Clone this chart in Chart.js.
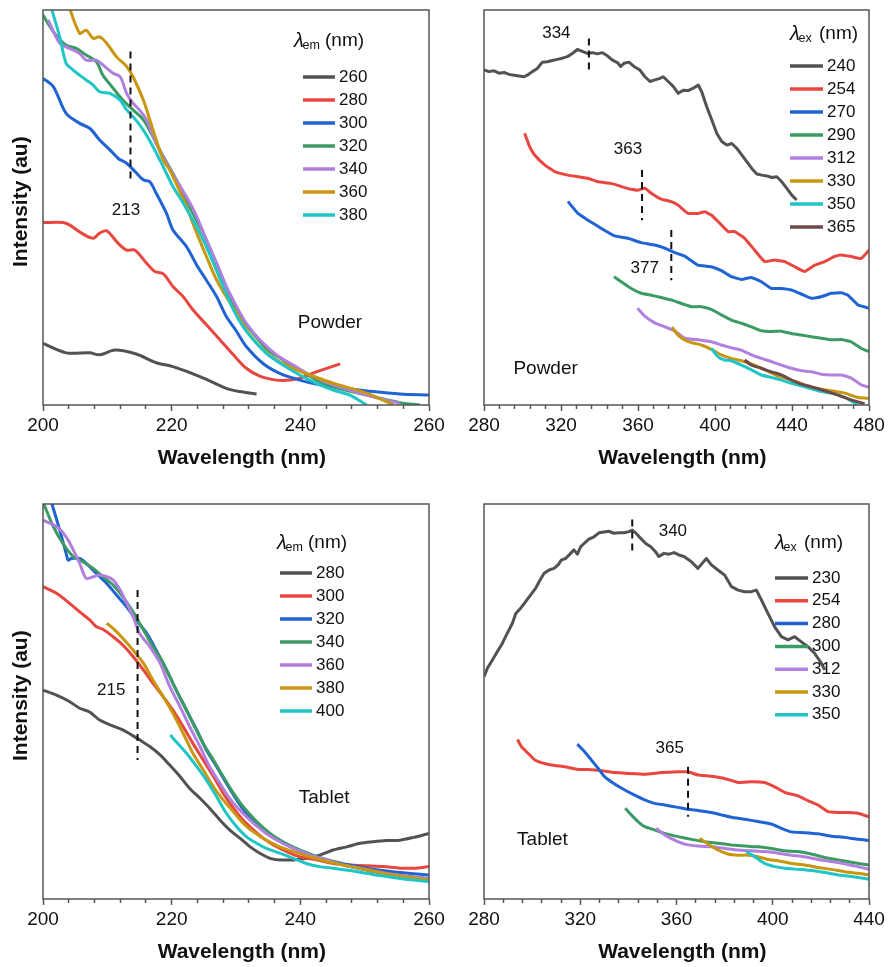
<!DOCTYPE html>
<html><head><meta charset="utf-8">
<script src="https://cdn.jsdelivr.net/npm/chart.js@4.4.1/dist/chart.umd.min.js"></script>
<style>
html,body{margin:0;padding:0;background:#fff;}
body{width:889px;height:967px;position:relative;overflow:hidden;}
canvas{position:absolute;}
</style></head><body>
<canvas id="c1" width="445" height="480" style="left:0;top:0"></canvas>
<canvas id="c2" width="444" height="480" style="left:445px;top:0"></canvas>
<canvas id="c3" width="445" height="487" style="left:0;top:480px"></canvas>
<canvas id="c4" width="444" height="487" style="left:445px;top:480px"></canvas>
<script>
// ---------------- DATA ----------------
// Panel 1: Powder, excitation spectra, lambda_em (nm)
const p1Labels = ['260', '280', '300', '320', '340', '360', '380'];
const p1X260 = [200, 203.6, 207.3, 208.8, 211.2, 214.5, 217.6, 220.2, 224.4, 228.5, 230.6, 233.2];
const p1Y260 = [15.6, 13.2, 13.2, 12.7, 13.9, 12.9, 10.7, 9.7, 7.2, 4.2, 3.4, 2.8];
const p1X280 = [200, 203.1, 204.1, 206.0, 207.8, 208.8, 209.9, 211.7, 213.0, 214.3, 216.1, 217.4, 218.7, 220.2, 221.8, 223.3, 225.4, 227.5, 229.6, 231.6, 233.7, 236.3, 238.4, 239.9, 242.5, 246.2];
const p1Y280 = [46.2, 46.2, 45.6, 43.5, 42.2, 43.5, 44.1, 40.9, 39.2, 39.2, 35.9, 33.8, 33.2, 30.0, 27.4, 24.1, 20.3, 16.5, 12.7, 9.3, 7.3, 6.3, 6.3, 6.8, 8.4, 10.4];
const p1X300 = [200, 201.6, 203.6, 205.7, 207.3, 208.8, 210.4, 211.7, 213.0, 214.3, 215.6, 216.6, 217.6, 219.2, 220.2, 222.3, 223.9, 225.4, 227.0, 228.5, 230.1, 231.6, 234.2, 236.8, 239.9, 243.0, 247.2, 251.3, 255.5, 260];
const p1Y300 = [82.7, 80.6, 73.8, 71.3, 70.0, 67.1, 64.6, 62.4, 61.2, 59.1, 57.0, 56.5, 53.6, 48.5, 44.3, 40.1, 35.4, 31.6, 27.4, 22.4, 18.6, 14.8, 10.5, 8.0, 6.3, 5.1, 4.2, 3.4, 2.8, 2.5];
const p1X320 = [200, 201.8, 203.6, 205.2, 206.7, 208.3, 209.3, 210.9, 212.4, 214.0, 215.6, 217.1, 218.7, 220.2, 221.8, 223.3, 224.9, 226.5, 228.0, 229.6, 231.1, 232.7, 234.7, 237.3, 239.9, 242.5, 245.1, 250.3, 255.5, 258.6];
const p1Y320 = [98.7, 94.1, 91.1, 90.3, 88.6, 86.9, 83.5, 80.2, 77.2, 74.7, 72.2, 67.9, 62.9, 58.6, 53.6, 48.5, 43.5, 37.6, 31.6, 25.7, 21.5, 18.1, 14.3, 11.4, 8.9, 6.3, 4.6, 2.5, 0.6, 0];
const p1X340 = [200.8, 202.6, 204.1, 205.7, 206.7, 208.3, 209.3, 210.9, 212.0, 213.0, 214.0, 215.0, 216.1, 217.6, 219.2, 220.7, 222.3, 223.9, 225.4, 227.0, 228.5, 230.1, 231.6, 233.7, 236.3, 238.9, 241.5, 245.1, 250.3, 255.5];
const p1Y340 = [97.5, 91.6, 90.3, 89.0, 87.3, 87.3, 86.1, 84.0, 83.1, 78.9, 76.4, 74.7, 72.2, 66.2, 61.2, 57.0, 52.7, 47.7, 41.8, 35.9, 30.0, 24.9, 20.7, 16.5, 12.7, 10.1, 7.6, 5.1, 2.5, 0.4];
const p1X360 = [203.9, 205.7, 206.7, 207.8, 208.8, 209.9, 211.4, 213.0, 214.0, 215.6, 216.6, 217.6, 218.7, 219.7, 220.7, 222.3, 223.9, 225.4, 227.0, 228.5, 230.1, 231.6, 233.7, 236.3, 238.9, 241.5, 245.1, 250.3, 254.5];
const p1Y360 = [101.5, 94.1, 94.9, 92.8, 93.2, 91.6, 88.2, 85.7, 83.1, 77.2, 72.2, 67.1, 62.0, 59.5, 56.1, 50.2, 43.5, 37.6, 31.6, 27.4, 23.2, 19.0, 14.8, 11.4, 9.3, 7.6, 5.5, 3.0, 0];
const p1X380 = [201.3, 202.6, 203.6, 204.7, 205.7, 206.7, 207.8, 208.8, 210.4, 212.0, 213.0, 214.0, 215.6, 217.1, 218.7, 220.2, 221.8, 223.3, 224.9, 226.5, 228.0, 229.6, 231.1, 232.7, 234.7, 237.3, 239.9, 242.5, 245.1, 247.7, 250.3];
const p1Y380 = [100.5, 93.2, 86.5, 84.8, 83.5, 82.3, 81.0, 79.3, 78.9, 77.2, 74.7, 73.0, 69.6, 65.4, 60.3, 55.3, 51.1, 46.8, 41.8, 35.9, 30.0, 24.1, 19.8, 16.5, 13.1, 10.1, 7.6, 5.5, 3.8, 2.5, 0];
const p1TickLabels = [200, 220, 240, 260];
const p1PeakLabels = ['213'];
const p1PeakX = [213.6];
const p1PeakYTop = [89.5];
const p1PeakYBottom = [56.1];

// Panel 2: Powder, emission spectra, lambda_ex (nm)
const p2Labels = ['240', '254', '270', '290', '312', '330', '350', '365'];
const p2X240 = [280, 282.6, 285.2, 287.8, 290.4, 293.0, 295.6, 298.2, 300.8, 302.5, 305.1, 307.7, 310.3, 312.9, 315.5, 318.1, 320.7, 323.3, 325.9, 328.5, 331.1, 333.7, 336.3, 338.9, 341.5, 344.1, 346.7, 349.3, 351.0, 352.7, 355.3, 357.9, 361.0, 363.6, 366.2, 368.8, 371.4, 373.1, 375.7, 378.4, 380.9, 383.5, 386.1, 388.7, 391.3, 393.1, 395.7, 398.3, 400.9, 403.5, 406.1, 408.7, 411.3, 413.9, 416.5, 419.1, 421.7, 424.3, 426.9, 429.5, 432.1, 434.7, 437.2, 439.8, 442.4];
const p2Y240 = [84.8, 84.4, 84.6, 84.0, 84.2, 83.7, 83.5, 83.3, 83.1, 83.5, 84.4, 85.2, 86.8, 86.9, 87.2, 87.5, 87.8, 88.2, 89.0, 90.0, 89.5, 89.0, 89.2, 88.9, 89.2, 88.4, 87.3, 86.7, 85.7, 86.5, 86.8, 85.7, 84.8, 83.1, 81.9, 82.3, 82.7, 83.1, 81.9, 80.6, 78.9, 79.7, 79.6, 80.2, 81.0, 79.3, 75.5, 72.2, 68.8, 66.7, 65.8, 66.2, 65.0, 63.3, 61.6, 59.9, 58.5, 58.2, 58.0, 57.6, 57.8, 56.5, 54.9, 53.2, 51.9];
const p2X254 = [301.1, 303.7, 306.3, 311.5, 316.7, 323.6, 328.8, 334.0, 339.2, 346.1, 351.3, 356.5, 360.0, 363.5, 366.9, 372.1, 377.3, 380.8, 386.0, 391.2, 394.6, 398.1, 403.3, 406.8, 410.2, 415.4, 420.6, 425.8, 431.0, 436.2, 441.4, 446.6, 451.8, 457.0, 462.2, 465.6, 470.8, 476.0, 480];
const p2Y254 = [68.8, 65.4, 63.3, 60.8, 59.1, 58.2, 57.8, 57.4, 56.5, 56.1, 55.3, 54.6, 54.4, 54.9, 53.6, 52.1, 51.5, 50.6, 48.5, 48.5, 48.9, 48.1, 45.6, 43.9, 43.9, 42.2, 39.2, 36.3, 36.7, 36.3, 35.0, 33.8, 35.4, 36.3, 37.6, 38.0, 37.6, 37.1, 39.2];
const p2X270 = [323.6, 328.8, 334.0, 341.0, 347.9, 354.8, 361.7, 368.7, 373.9, 379.0, 384.2, 391.2, 398.1, 403.3, 408.5, 413.7, 418.9, 424.1, 429.3, 434.5, 439.7, 444.8, 450.0, 455.2, 460.4, 465.6, 469.1, 474.3, 480];
const p2Y270 = [51.5, 48.5, 46.8, 44.7, 42.8, 42.2, 41.1, 40.5, 39.7, 38.6, 37.7, 35.4, 35.0, 34.0, 32.5, 31.8, 32.3, 31.2, 29.5, 29.5, 29.1, 28.1, 27.0, 27.4, 28.3, 28.4, 27.8, 25.3, 24.5];
const p2X290 = [347.5, 351.3, 356.5, 361.7, 366.9, 372.1, 377.3, 382.5, 387.7, 392.9, 398.1, 403.3, 408.5, 413.7, 418.9, 424.1, 429.3, 434.5, 439.7, 444.8, 450.0, 455.2, 460.4, 465.6, 470.8, 476.0, 480];
const p2Y290 = [32.5, 31.2, 29.5, 28.3, 27.8, 27.2, 26.6, 25.7, 24.9, 24.9, 24.2, 22.8, 21.5, 20.7, 19.8, 18.8, 18.6, 18.7, 18.1, 17.7, 17.3, 16.9, 16.5, 16.6, 16.0, 14.3, 13.5];
const p2X312 = [359.7, 363.5, 368.7, 373.9, 379.0, 384.2, 391.2, 398.1, 403.3, 408.5, 413.7, 418.9, 424.1, 429.3, 434.5, 439.7, 444.8, 450.0, 455.2, 460.4, 465.6, 470.8, 476.0, 480];
const p2Y312 = [24.5, 22.5, 20.8, 19.8, 18.8, 16.9, 16.5, 16.0, 15.2, 14.5, 13.9, 12.7, 11.8, 11.0, 10.1, 9.3, 8.7, 8.4, 7.8, 7.6, 7.6, 6.8, 5.1, 4.5];
const p2X330 = [377.7, 380.8, 384.2, 387.7, 392.9, 398.1, 403.3, 408.5, 413.7, 418.9, 425.8, 432.7, 439.7, 446.6, 453.5, 460.4, 467.4, 474.3, 480];
const p2Y330 = [19.7, 17.7, 16.5, 15.8, 15.2, 14.1, 12.7, 11.8, 11.2, 10.4, 8.9, 7.3, 6.3, 5.1, 4.2, 3.6, 3.0, 1.9, 1.7];
const p2X350 = [398.1, 401.6, 405.0, 408.5, 413.7, 418.9, 424.1, 429.3, 434.5, 439.7, 446.6, 453.5, 460.4, 467.4, 474.3];
const p2Y350 = [14.3, 12.2, 11.4, 11.2, 10.1, 8.9, 7.6, 7.0, 6.3, 5.5, 4.6, 3.6, 3.0, 1.9, 0];
const p2X365 = [415.4, 418.9, 424.1, 429.3, 434.5, 439.7, 444.8, 450.0, 457.0, 463.9, 470.8, 477.7];
const p2Y365 = [11.4, 10.1, 9.3, 8.4, 7.6, 6.3, 5.3, 4.6, 3.6, 2.5, 1.3, 0.3];
const p2TickLabels = [280, 320, 360, 400, 440, 480];
const p2PeakLabels = ['334', '363', '377'];
const p2PeakX = [334.5, 362.1, 377.3];
const p2PeakYTop = [92.8, 59.5, 44.3];
const p2PeakYBottom = [84.0, 46.8, 31.6];

// Panel 3: Tablet, excitation spectra, lambda_em (nm)
const p3Labels = ['280', '300', '320', '340', '360', '380', '400'];
const p3X280 = [200, 202.1, 204.1, 205.7, 207.3, 208.8, 210.4, 212.4, 214.0, 215.0, 216.6, 218.2, 219.7, 221.3, 222.8, 224.4, 225.9, 227.5, 229.0, 230.6, 232.2, 233.7, 235.3, 236.8, 238.9, 241.0, 243.0, 245.1, 247.2, 249.3, 251.3, 253.4, 255.5, 257.6, 260];
const p3Y280 = [52.9, 51.6, 50.0, 48.3, 47.3, 45.3, 44.1, 42.8, 41.3, 40.3, 38.6, 36.5, 33.9, 31.0, 28.0, 25.5, 23.0, 20.0, 17.5, 15.4, 13.2, 11.6, 10.3, 9.9, 9.9, 10.3, 11.1, 12.4, 13.2, 14.1, 14.5, 14.8, 14.9, 15.6, 16.6];
const p3X300 = [200, 202.1, 204.1, 205.7, 207.3, 208.3, 209.3, 210.9, 212.4, 214.0, 215.6, 217.1, 218.7, 220.2, 221.8, 223.3, 224.9, 226.5, 228.0, 229.6, 231.1, 232.7, 234.2, 235.8, 237.9, 239.9, 242.5, 245.1, 247.7, 250.3, 252.9, 255.5, 257.6, 260];
const p3Y300 = [79.1, 77.4, 74.9, 72.7, 70.6, 68.9, 68.3, 66.4, 64.3, 61.4, 58.0, 54.6, 51.2, 47.8, 43.6, 39.4, 35.2, 31.0, 26.8, 23.0, 20.0, 17.5, 15.4, 13.7, 12.0, 10.7, 9.9, 9.0, 8.6, 8.4, 8.2, 7.8, 7.8, 8.2];
const p3X320 = [201.3, 202.6, 203.6, 203.9, 204.4, 205.7, 206.7, 208.3, 209.9, 211.4, 213.0, 214.5, 216.1, 217.6, 219.2, 220.7, 222.3, 223.9, 225.4, 227.0, 228.5, 230.1, 231.6, 233.7, 235.8, 237.9, 239.9, 242.5, 245.1, 247.7, 250.3, 252.9, 255.5, 260];
const p3Y320 = [100.5, 93.4, 87.5, 85.8, 86.2, 86.2, 85.0, 82.4, 79.9, 77.0, 74.0, 70.6, 67.3, 63.0, 58.0, 52.9, 47.8, 42.8, 37.7, 33.5, 29.3, 25.1, 21.7, 18.3, 15.8, 13.7, 12.4, 10.7, 9.5, 8.6, 7.8, 7.2, 6.7, 6.1];
const p3X340 = [200, 201.6, 203.1, 204.7, 206.2, 207.8, 209.3, 210.9, 212.4, 214.0, 215.6, 217.1, 218.7, 220.2, 221.8, 223.3, 224.9, 226.5, 228.0, 229.6, 231.1, 233.2, 235.3, 237.3, 239.9, 242.5, 245.1, 247.7, 250.3, 252.9, 255.5, 260];
const p3Y340 = [100.5, 94.3, 90.0, 86.7, 85.4, 83.7, 81.6, 79.5, 76.5, 72.7, 68.1, 63.9, 59.7, 54.6, 49.5, 44.5, 39.4, 35.2, 31.0, 26.8, 23.4, 19.6, 16.6, 14.5, 12.4, 10.7, 9.5, 8.2, 7.3, 6.5, 5.8, 5.2];
const p3X360 = [200, 202.1, 203.6, 204.7, 205.7, 206.7, 207.8, 208.8, 209.9, 210.9, 212.0, 213.0, 214.0, 215.0, 216.6, 218.2, 219.7, 221.3, 222.8, 224.4, 225.9, 227.5, 229.0, 230.6, 232.7, 234.7, 236.8, 238.9, 241.5, 244.1, 246.7, 249.3, 251.9, 254.5, 257.1, 260];
const p3Y360 = [95.9, 94.3, 91.7, 88.4, 85.0, 81.2, 81.6, 82.0, 81.6, 80.8, 78.2, 74.9, 71.5, 67.3, 63.9, 59.7, 53.8, 48.7, 43.6, 38.6, 33.5, 29.3, 25.5, 22.5, 19.2, 16.6, 14.5, 12.8, 11.1, 9.9, 8.6, 7.8, 6.9, 6.2, 5.7, 5.2];
const p3X380 = [209.9, 210.9, 212.4, 214.0, 215.6, 217.1, 218.7, 220.2, 221.8, 223.3, 224.9, 226.5, 228.0, 229.6, 231.1, 232.7, 234.7, 236.8, 238.9, 241.5, 244.1, 246.7, 249.3, 251.9, 254.5, 257.1, 260];
const p3Y380 = [69.8, 68.5, 66.0, 63.0, 59.7, 55.4, 51.2, 47.0, 41.9, 36.9, 32.7, 28.4, 25.1, 22.1, 19.2, 17.0, 14.9, 13.2, 12.0, 10.7, 9.5, 8.6, 7.8, 6.9, 6.1, 5.5, 4.8];
const p3X400 = [219.8, 220.7, 222.3, 223.9, 225.4, 227.0, 228.5, 230.1, 231.6, 233.2, 234.7, 236.8, 238.9, 240.9, 243.0, 245.1, 247.7, 250.3, 252.9, 255.5, 260];
const p3Y400 = [41.5, 39.8, 36.9, 33.5, 30.1, 25.9, 21.7, 18.3, 15.8, 14.1, 12.8, 11.6, 10.3, 9.0, 8.2, 7.8, 7.2, 6.5, 5.8, 5.2, 4.4];
const p3TickLabels = [200, 220, 240, 260];
const p3PeakLabels = ['215'];
const p3PeakX = [214.7];
const p3PeakYTop = [78.2];
const p3PeakYBottom = [35.2];

// Panel 4: Tablet, emission spectra, lambda_ex (nm)
const p4Labels = ['230', '254', '280', '300', '312', '330', '350'];
const p4X230 = [280, 281.4, 283.5, 285.5, 287.6, 289.7, 291.8, 293.2, 295.2, 297.3, 299.4, 301.5, 302.9, 304.9, 307.0, 309.1, 310.8, 312.1, 313.9, 316.0, 317.4, 318.8, 320.2, 321.6, 323.6, 325.7, 327.8, 329.9, 331.9, 334.0, 336.1, 338.2, 340.3, 341.6, 343.0, 345.1, 347.2, 349.3, 351.3, 352.7, 354.8, 356.9, 359.0, 361.0, 363.1, 366.2, 368.9, 372.4, 374.5, 377.2, 380.0, 382.8, 385.6, 388.3, 391.1, 393.2, 395.3, 398.0, 400.8, 403.6, 406.3, 409.1, 411.9, 414.6, 417.4, 420.2, 421.6];
const p4Y230 = [56.3, 58.4, 60.5, 62.6, 64.7, 67.3, 69.8, 72.3, 73.6, 75.3, 77.0, 78.7, 80.3, 82.4, 83.3, 83.7, 84.6, 85.8, 86.2, 87.5, 88.4, 87.3, 89.2, 90.0, 91.1, 91.7, 92.7, 92.9, 93.1, 92.6, 92.7, 92.7, 93.0, 93.4, 92.7, 91.3, 90.0, 89.2, 87.9, 86.7, 87.5, 87.3, 87.7, 87.1, 86.7, 85.4, 83.7, 86.2, 84.6, 83.3, 82.0, 79.1, 78.2, 77.8, 77.8, 78.2, 75.7, 72.3, 68.9, 66.4, 65.6, 66.4, 65.1, 63.9, 62.2, 59.7, 58.0];
const p4X254 = [293.9, 295.5, 298.3, 301.1, 305.2, 309.4, 313.5, 319.1, 323.2, 328.8, 334.3, 339.8, 346.8, 353.7, 360.6, 364.8, 368.9, 374.5, 380.0, 385.6, 391.1, 396.6, 400.8, 404.9, 410.5, 414.6, 418.8, 423.0, 427.1, 431.3, 435.4, 440];
const p4Y254 = [40.4, 38.6, 36.9, 35.2, 34.3, 33.8, 33.5, 32.8, 32.8, 32.5, 32.0, 31.8, 31.6, 32.0, 32.2, 32.2, 31.4, 31.1, 30.5, 29.5, 29.7, 29.5, 28.4, 27.0, 26.1, 24.9, 23.8, 22.1, 21.9, 21.9, 21.7, 20.8];
const p4X280 = [318.8, 321.8, 324.6, 327.4, 330.1, 334.3, 338.5, 342.6, 346.8, 350.9, 355.1, 360.6, 364.8, 368.9, 374.5, 378.6, 382.8, 388.3, 393.9, 399.4, 403.6, 407.7, 413.3, 418.8, 424.3, 429.9, 435.4, 440];
const p4Y280 = [39.2, 37.3, 35.2, 33.1, 31.0, 29.1, 27.6, 26.3, 25.1, 24.2, 23.8, 23.2, 22.7, 22.4, 21.9, 21.3, 20.7, 20.2, 19.6, 19.0, 17.9, 17.0, 16.8, 16.5, 15.9, 15.6, 15.1, 14.8];
const p4X300 = [338.7, 341.2, 344.0, 346.8, 350.9, 355.1, 360.6, 366.2, 371.7, 377.2, 382.8, 388.3, 393.9, 399.4, 404.9, 410.5, 416.0, 421.6, 427.1, 432.7, 440];
const p4Y300 = [23.0, 21.3, 19.6, 18.3, 17.5, 16.6, 15.8, 15.1, 14.5, 14.1, 13.7, 13.4, 13.2, 12.8, 12.2, 12.0, 11.4, 10.5, 9.9, 9.3, 8.6];
const p4X312 = [351.6, 355.1, 359.2, 363.4, 368.9, 374.5, 380.0, 385.6, 391.1, 396.6, 402.2, 407.7, 413.3, 418.8, 424.3, 429.9, 435.4, 440];
const p4Y312 = [17.9, 16.2, 14.9, 13.9, 13.4, 13.2, 12.8, 12.4, 12.2, 12.0, 11.6, 11.1, 10.7, 10.0, 9.5, 8.9, 8.2, 7.5];
const p4X330 = [369.6, 373.1, 377.2, 381.4, 385.6, 389.7, 393.9, 398.0, 402.2, 407.7, 413.3, 418.8, 424.3, 429.9, 435.4, 440];
const p4Y330 = [15.4, 13.9, 12.4, 11.4, 11.1, 11.1, 10.7, 10.0, 9.7, 9.0, 8.6, 8.0, 7.5, 6.9, 6.5, 6.1];
const p4X350 = [389.0, 392.5, 396.6, 400.8, 404.9, 410.5, 416.0, 421.6, 427.1, 432.7, 440];
const p4Y350 = [12.0, 10.7, 9.0, 8.2, 7.8, 7.5, 7.2, 6.7, 6.1, 5.7, 5.0];
const p4TickLabels = [280, 320, 360, 400, 440];
const p4PeakLabels = ['340', '365'];
const p4PeakX = [341.6, 364.8];
const p4PeakYTop = [96.1, 33.5];
const p4PeakYBottom = [87.5, 20.8];

// ---------------- STYLE / LAYOUT ----------------
const FONT = '"Liberation Sans", Arial, Helvetica, sans-serif';
const PALETTE = ['#525252', '#e8463f', '#2063d3', '#3b9b63', '#b180de', '#c8970f', '#1fc5c7', '#6d4a4a'];
const AXIS_COLOR = '#555';
const X_TITLE = '  Wavelength (nm)';
const Y_TITLE = '  Intensity (au)';

function pts(xs, ys) { return xs.map((x, i) => ({x: x, y: ys[i]})); }

function buildDatasets(labels, xsList, ysList, tensions) {
  return labels.map((lab, i) => ({
    label: lab,
    data: pts(xsList[i], ysList[i]),
    borderColor: PALETTE[i],
    borderWidth: 3,
    pointRadius: 0,
    fill: false,
    tension: Array.isArray(tensions) ? tensions[i] : tensions,
    borderJoinStyle: 'round',
    order: -i,
    isSeries: true
  }));
}
function peakDatasets(xs, yTop, yBottom) {
  return xs.map((x, i) => ({
    label: '_peak' + i,
    data: [{x: x, y: yTop[i]}, {x: x, y: yBottom[i]}],
    borderColor: '#111',
    borderWidth: 2,
    borderDash: [7, 5],
    pointRadius: 0,
    tension: 0,
    order: -100
  }));
}

const framePlugin = {
  id: 'frame',
  afterDatasetsDraw(chart) {
    const a = chart.chartArea, c = chart.ctx;
    c.save();
    c.strokeStyle = AXIS_COLOR;
    c.lineWidth = 1.5;
    c.strokeRect(a.left, a.top, a.right - a.left, a.bottom - a.top);
    c.restore();
  }
};

const decorPlugin = {
  id: 'decor',
  afterDraw(chart, args, opts) {
    const c = chart.ctx;
    const xs = chart.scales.x, ys = chart.scales.y;
    c.save();
    c.fillStyle = '#111';
    c.textBaseline = 'middle';
    (opts.texts || []).forEach(t => {
      c.font = (t.size || 17) + 'px ' + FONT;
      c.textAlign = 'center';
      c.fillText(t.text, xs.getPixelForValue(t.x), ys.getPixelForValue(t.y));
    });
    const lg = opts.legend;
    if (lg) {
      const x = lg.titleX, y = lg.titleY;
      c.textAlign = 'left';
      c.font = 'italic 20px ' + FONT;
      c.fillText('\u03BB', x, y);
      c.font = '12.5px ' + FONT;
      c.fillText(lg.sub, x + 8.5, y + 5);
      c.font = '19px ' + FONT;
      c.fillText('(nm)', x + lg.nmOffset, y);
      const items = chart.data.datasets.filter(d => d.isSeries);
      items.forEach((d, i) => {
        const ry = lg.rowY + i * lg.rowH;
        c.strokeStyle = d.borderColor;
        c.lineWidth = 3.5;
        c.beginPath();
        c.moveTo(lg.lineX, ry);
        c.lineTo(lg.lineX + lg.lineLen, ry);
        c.stroke();
        c.fillStyle = '#111';
        c.font = '17px ' + FONT;
        c.fillText(d.label, lg.lineX + lg.lineLen + 4, ry);
      });
    }
    c.restore();
  }
};

function makeChart(id, cfg) {
  const canvas = document.getElementById(id);
  const W = canvas.width, H = canvas.height;
  const A = cfg.area;
  const tickVals = [];
  for (let v = cfg.xmin; v <= cfg.xmax; v += cfg.minorStep) tickVals.push(v);
  const major = cfg.tickLabels;
  return new Chart(canvas, {
    type: 'line',
    data: { datasets: cfg.datasets },
    options: {
      responsive: false,
      animation: false,
      events: [],
      devicePixelRatio: 1,
      layout: { padding: { top: A.top, right: W - A.right, bottom: 0, left: 0 } },
      plugins: {
        legend: { display: false },
        tooltip: { enabled: false },
        decor: { texts: cfg.texts, legend: cfg.legend }
      },
      scales: {
        x: {
          type: 'linear',
          min: cfg.xmin, max: cfg.xmax,
          afterBuildTicks: (s) => { s.ticks = tickVals.map(v => ({value: v})); },
          afterFit: (s) => { s.height = H - A.bottom; s.paddingLeft = 0; s.paddingRight = 0; },
          ticks: {
            autoSkip: false, maxRotation: 0, minRotation: 0, padding: 3,
            color: '#111',
            font: { family: FONT, size: 19 },
            callback: (v) => major.includes(v) ? String(v) : ''
          },
          grid: {
            display: true, drawOnChartArea: false, drawTicks: true,
            tickLength: 6, tickWidth: 1.5, tickColor: AXIS_COLOR,
            tickBorderDash: (ctx) => (ctx.tick && !major.includes(ctx.tick.value)) ? [4, 60] : []
          },
          border: { display: false },
          title: {
            display: true, text: X_TITLE, color: '#111',
            font: { family: FONT, size: 21, weight: 'bold' },
            padding: { top: 0, bottom: cfg.xTitlePad }
          }
        },
        y: {
          type: 'linear', min: 0, max: 100,
          afterFit: (s) => { s.width = A.left; },
          ticks: { display: false },
          grid: { display: false, drawTicks: false },
          border: { display: false },
          title: {
            display: !!cfg.yTitle, text: Y_TITLE, color: '#111',
            font: { family: FONT, size: 21, weight: 'bold' },
            padding: { top: 9, bottom: 0 }
          }
        }
      }
    },
    plugins: [framePlugin, decorPlugin]
  });
}

// Panel 1
makeChart('c1', {
  xmin: 200, xmax: 260, minorStep: 4, tickLabels: p1TickLabels,
  area: { left: 43, right: 429, top: 10, bottom: 405 }, xTitlePad: 9, yTitle: true,
  datasets: buildDatasets(p1Labels,
    [p1X260, p1X280, p1X300, p1X320, p1X340, p1X360, p1X380],
    [p1Y260, p1Y280, p1Y300, p1Y320, p1Y340, p1Y360, p1Y380], 0.3)
    .concat(peakDatasets(p1PeakX, p1PeakYTop, p1PeakYBottom)),
  texts: [
    { text: p1PeakLabels[0], x: 212.9, y: 49.4 },
    { text: 'Powder', x: 244.6, y: 20.8, size: 19 }
  ],
  legend: { sub: 'em', titleX: 294, titleY: 41, nmOffset: 31, lineX: 303, lineLen: 32, rowY: 77, rowH: 23 }
});

// Panel 2
makeChart('c2', {
  xmin: 280, xmax: 480, minorStep: 8, tickLabels: p2TickLabels,
  area: { left: 39, right: 424, top: 10, bottom: 405 }, xTitlePad: 9, yTitle: false,
  datasets: buildDatasets(p2Labels,
    [p2X240, p2X254, p2X270, p2X290, p2X312, p2X330, p2X350, p2X365],
    [p2Y240, p2Y254, p2Y270, p2Y290, p2Y312, p2Y330, p2Y350, p2Y365], [0, 0.1, 0.1, 0.1, 0.15, 0.15, 0.15, 0.15])
    .concat(peakDatasets(p2PeakX, p2PeakYTop, p2PeakYBottom)),
  texts: [
    { text: p2PeakLabels[0], x: 317.6, y: 94.0 },
    { text: p2PeakLabels[1], x: 354.8, y: 64.8 },
    { text: p2PeakLabels[2], x: 363.5, y: 34.6 },
    { text: 'Powder', x: 312.0, y: 9.1, size: 19 }
  ],
  legend: { sub: 'ex', titleX: 345, titleY: 34, nmOffset: 29, lineX: 345, lineLen: 33, rowY: 66, rowH: 23 }
});

// Panel 3
makeChart('c3', {
  xmin: 200, xmax: 260, minorStep: 4, tickLabels: p3TickLabels,
  area: { left: 43, right: 429, top: 24, bottom: 419 }, xTitlePad: 2, yTitle: true,
  datasets: buildDatasets(p3Labels,
    [p3X280, p3X300, p3X320, p3X340, p3X360, p3X380, p3X400],
    [p3Y280, p3Y300, p3Y320, p3Y340, p3Y360, p3Y380, p3Y400], 0.3)
    .concat(peakDatasets(p3PeakX, p3PeakYTop, p3PeakYBottom)),
  texts: [
    { text: p3PeakLabels[0], x: 210.6, y: 52.9 },
    { text: 'Tablet', x: 243.7, y: 25.6, size: 19 }
  ],
  legend: { sub: 'em', titleX: 277, titleY: 63, nmOffset: 31, lineX: 280, lineLen: 32, rowY: 93, rowH: 23 }
});

// Panel 4
makeChart('c4', {
  xmin: 280, xmax: 440, minorStep: 8, tickLabels: p4TickLabels,
  area: { left: 39, right: 424, top: 24, bottom: 419 }, xTitlePad: 2, yTitle: false,
  datasets: buildDatasets(p4Labels,
    [p4X230, p4X254, p4X280, p4X300, p4X312, p4X330, p4X350],
    [p4Y230, p4Y254, p4Y280, p4Y300, p4Y312, p4Y330, p4Y350], [0, 0.1, 0.15, 0.15, 0.15, 0.15, 0.15])
    .concat(peakDatasets(p4PeakX, p4PeakYTop, p4PeakYBottom)),
  texts: [
    { text: p4PeakLabels[0], x: 358.5, y: 93.0 },
    { text: p4PeakLabels[1], x: 357.2, y: 38.1 },
    { text: 'Tablet', x: 304.3, y: 14.9, size: 19 }
  ],
  legend: { sub: 'ex', titleX: 330, titleY: 63, nmOffset: 29, lineX: 330, lineLen: 33, rowY: 98, rowH: 22.8 }
});
</script>
</body></html>
